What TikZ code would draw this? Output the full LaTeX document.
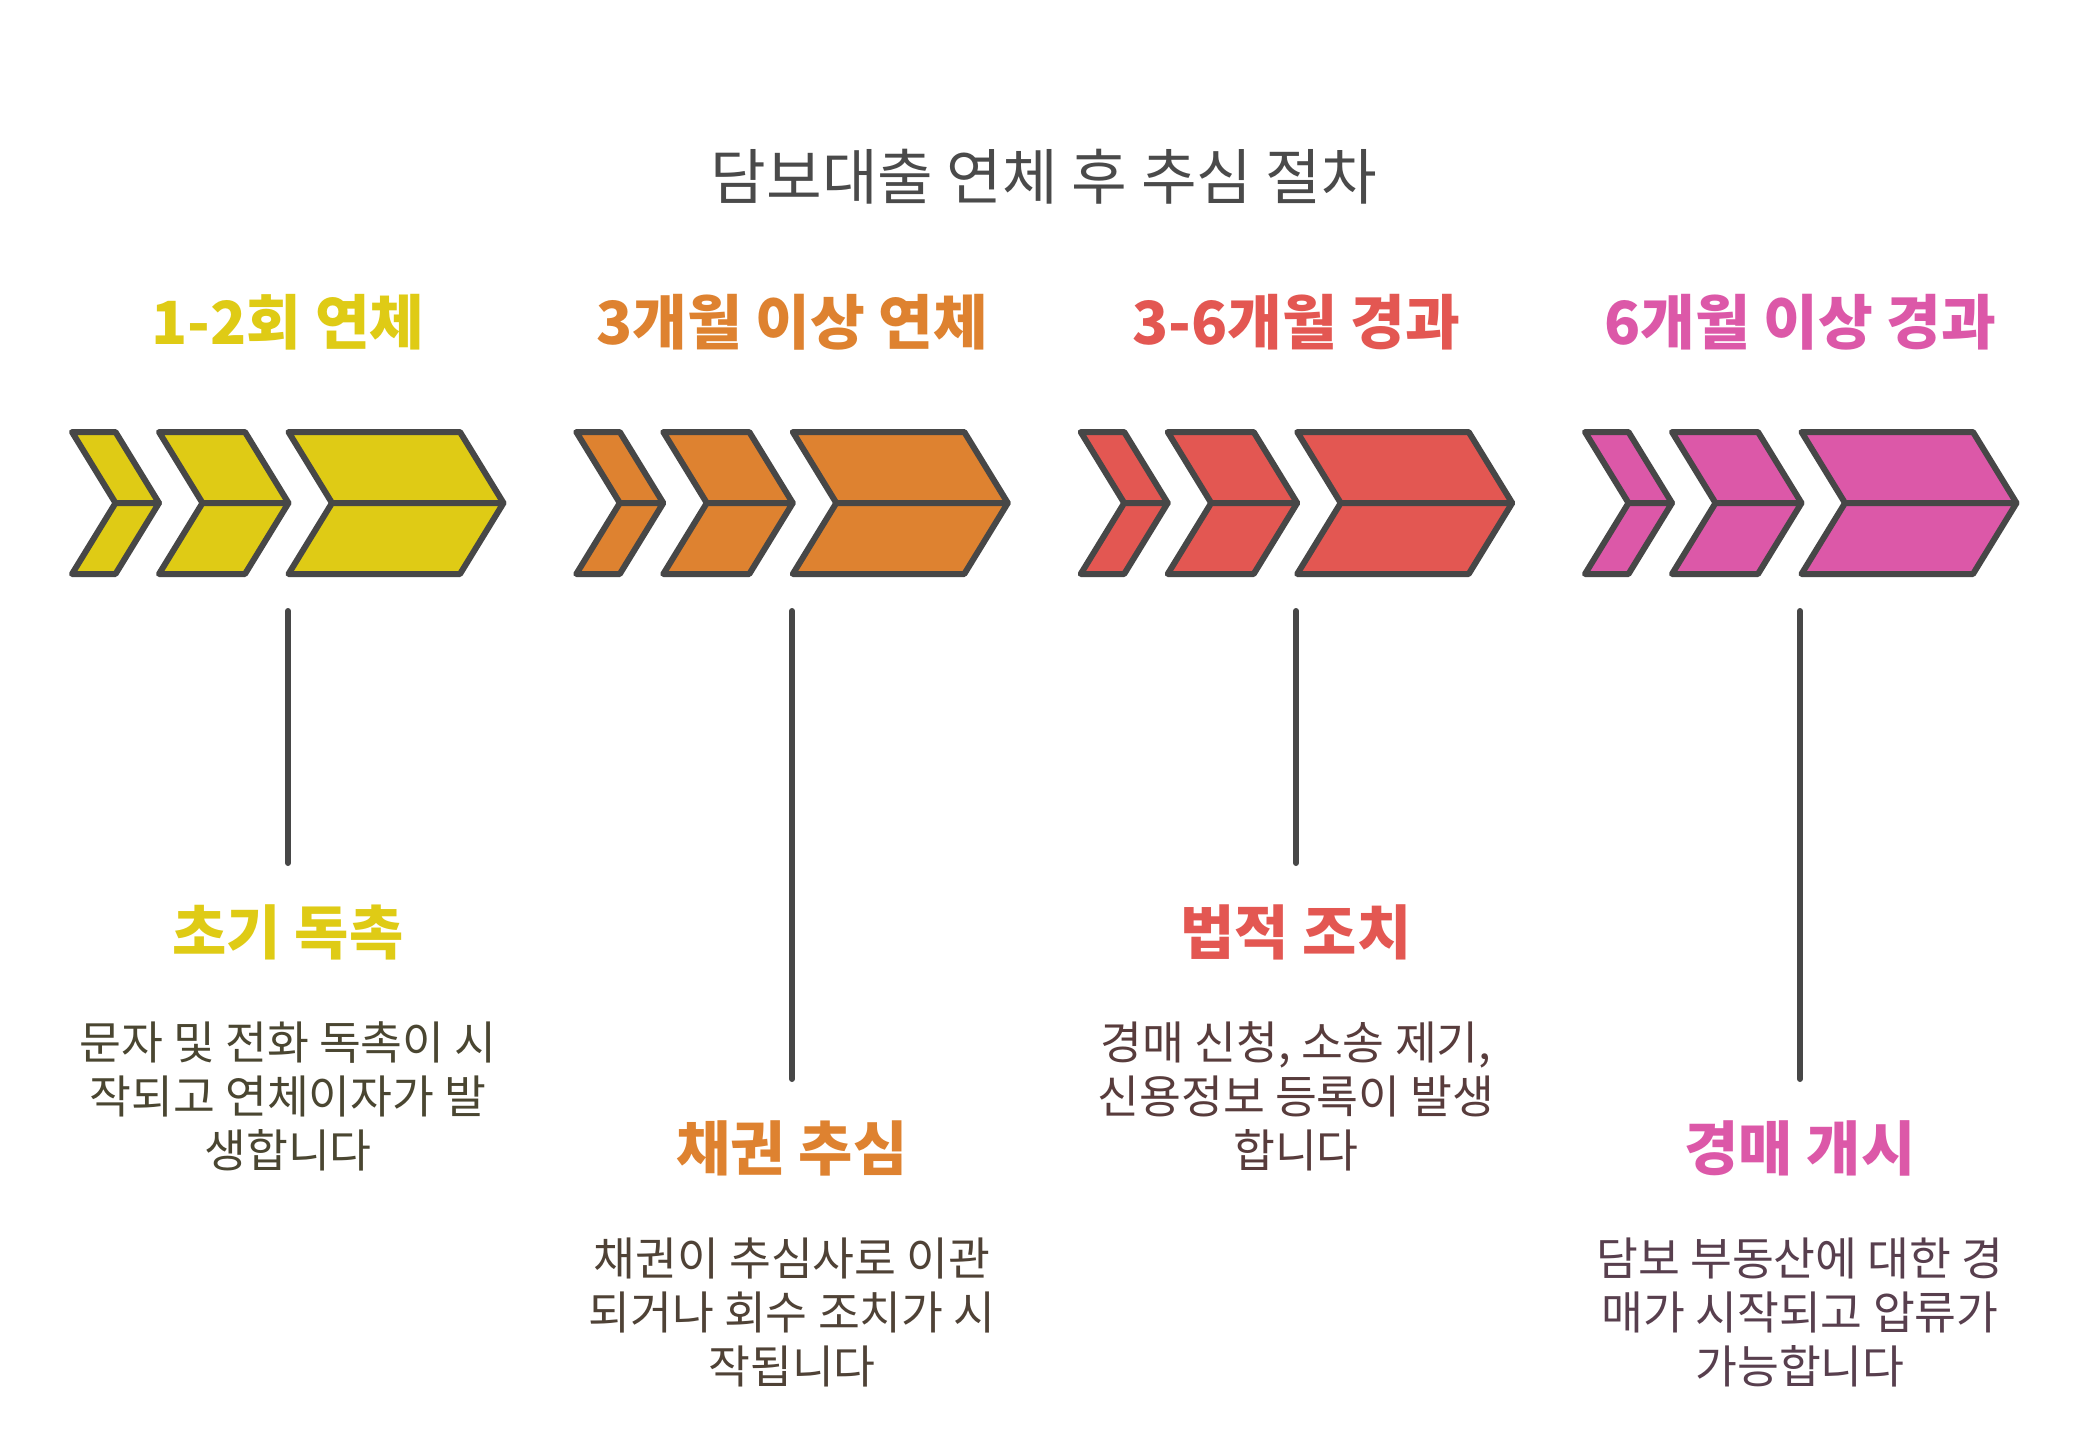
\documentclass[tikz,border=0pt]{standalone}
\usepackage{fontspec}
\setmainfont{Noto Sans CJK KR}
\definecolor{cy}{HTML}{DFCB15}
\definecolor{co}{HTML}{DE8230}
\definecolor{cr}{HTML}{E35752}
\definecolor{cp}{HTML}{DC58A8}
\definecolor{edge}{HTML}{474747}
\definecolor{ttl}{HTML}{4A4A4A}
\definecolor{ta}{HTML}{4A4631}
\definecolor{tb}{HTML}{4F4236}
\definecolor{tc}{HTML}{583C3C}
\definecolor{td}{HTML}{583F4E}
\newcommand\mychev[3]{%
  \filldraw[chevstyle, fill=#3] (#1,432) -- ++(#2,0) -- ++(43.5,71) -- ++(-#2,0) -- cycle;
  \filldraw[chevstyle, fill=#3] (#1+43.5,503) -- ++(#2,0) -- ++(-43.5,71) -- ++(-#2,0) -- cycle;}
\newcommand\mygroup[2]{%
  \mychev{#1}{43.5}{#2}
  \mychev{#1+87}{86}{#2}
  \mychev{#1+216.5}{171.5}{#2}}
\tikzset{
  chevstyle/.style={draw=edge, line width=6pt, line join=round},
  vline/.style={draw=edge, line width=6pt, line cap=round},
  ttlstyle/.style={text=ttl, font=\fontsize{60.5}{70}\selectfont, inner sep=0pt},
  hdr/.style={font=\bfseries\fontsize{59.5}{70}\selectfont, inner sep=0pt},
  sub/.style={font=\bfseries\fontsize{59}{70}\selectfont, inner sep=0pt},
  body/.style={font=\fontsize{45.5}{54}\selectfont, align=center, inner sep=0pt}
}
\begin{document}
\begin{tikzpicture}[x=1pt,y=-1pt]
\useasboundingbox[fill=white] (0,0) rectangle (2088,1445);

\node[ttlstyle] (title) at (1044,177) {담보대출 연체 후 추심 절차};

\mygroup{72}{cy}
\mygroup{576.3}{co}
\mygroup{1080.7}{cr}
\mygroup{1585}{cp}

\node[hdr, text=cy] (h1) at (288,322) {1-2회 연체};
\node[hdr, text=co] (h2) at (792,322) {3개월 이상 연체};
\node[hdr, text=cr] (h3) at (1296,322) {3-6개월 경과};
\node[hdr, text=cp] (h4) at (1800,322) {6개월 이상 경과};

\coordinate (l1a) at (288,611);  \coordinate (l1b) at (288,863);
\coordinate (l2a) at (792,611);  \coordinate (l2b) at (792,1079);
\coordinate (l3a) at (1296,611); \coordinate (l3b) at (1296,863);
\coordinate (l4a) at (1800,611); \coordinate (l4b) at (1800,1079);
\draw[vline] (l1a) -- (l1b);
\draw[vline] (l2a) -- (l2b);
\draw[vline] (l3a) -- (l3b);
\draw[vline] (l4a) -- (l4b);

\node[sub, text=cy] (s1) at (288,932) {초기 독촉};
\node[sub, text=co] (s2) at (792,1148) {채권 추심};
\node[sub, text=cr] (s3) at (1296,932) {법적 조치};
\node[sub, text=cp] (s4) at (1800,1148) {경매 개시};

\node[body, text=ta] (b1) at (288,1096) {문자 및 전화 독촉이 시\\작되고 연체이자가 발\\생합니다};
\node[body, text=tb] (b2) at (792,1312) {채권이 추심사로 이관\\되거나 회수 조치가 시\\작됩니다};
\node[body, text=tc] (b3) at (1296,1096) {경매 신청, 소송 제기,\\신용정보 등록이 발생\\합니다};
\node[body, text=td] (b4) at (1800,1312) {담보 부동산에 대한 경\\매가 시작되고 압류가\\가능합니다};
\end{tikzpicture}
\end{document}
